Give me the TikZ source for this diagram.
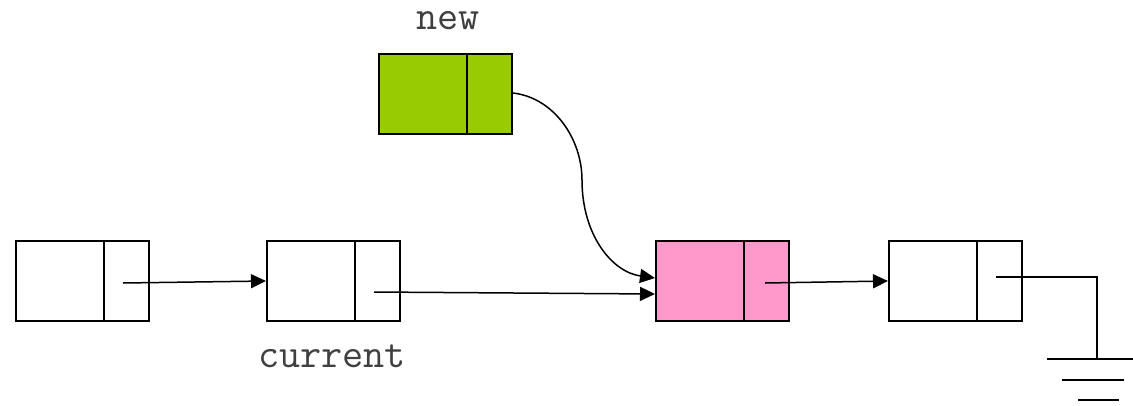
\documentclass[tikz,border=0pt]{standalone}
\usepackage{fontspec}
\usetikzlibrary{arrows.meta,calc}
\definecolor{newgreen}{HTML}{99CC00}
\definecolor{newpink}{HTML}{FF99CC}
\definecolor{labelgray}{HTML}{404040}
\tikzset{
  cell/.style={draw=black, line width=2pt, minimum width=133pt, minimum height=80pt, inner sep=0pt, anchor=north west},
  ptr/.style={line width=1.5pt, -{Triangle[length=15pt,width=14pt]}},
  wire/.style={line width=1.5pt},
  lbl/.style={font=\ttfamily\fontsize{41}{44}\selectfont, text=labelgray, inner sep=0pt, anchor=base}
}
\newcommand{\divider}[1]{\draw[line width=2pt] ($(#1.north west)+(89,0)$) -- ($(#1.south west)+(89,0)$);}
\begin{document}
\begin{tikzpicture}[x=1pt,y=-1pt]
\useasboundingbox (0,0) rectangle (1133,405);
\node[cell] (b1) at (15,240) {};
\node[cell] (b2) at (266,240) {};
\node[cell, fill=newgreen] (nw) at (378,53) {};
\node[cell, fill=newpink] (pk) at (655,240) {};
\node[cell] (b5) at (888,240) {};
\divider{b1}\divider{b2}\divider{nw}\divider{pk}\divider{b5}
\node[lbl] (tnew) at (448,29) {new};
\node[lbl] (tcur) at (332,367) {current};
\coordinate (p1) at (123,283);
\coordinate (p2) at (374,292);
\coordinate (p3) at (765,283);
\coordinate (p5) at (996,277);
\coordinate (g) at (1097,277);
\coordinate (gb) at (1097,359);
\draw[ptr] (p1) -- (266,281);
\draw[ptr] (p2) -- (655,294);
\draw[ptr] (p3) -- (888,281);
\draw[ptr] (nw.east |- 0,93) .. controls (555,98) and (582,140) .. (582,180)
  .. controls (582,235) and (612,272) .. (655,278);
\draw[wire] (p5) -- (g) -- (gb);
\draw[wire] (1047,359) -- (1133,359);
\draw[wire] (1062,380) -- (1124,380);
\draw[wire] (1078,400) -- (1119,400);
\end{tikzpicture}
\end{document}
